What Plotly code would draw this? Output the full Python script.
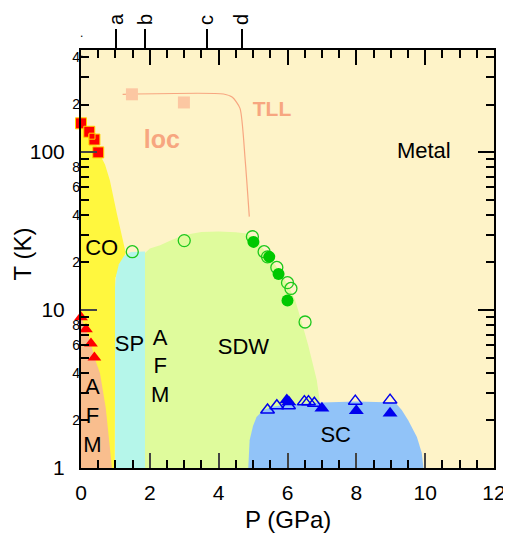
import plotly.graph_objects as go

FONT = "Liberation Sans, Arial, sans-serif"

# ---- phase-region boundaries (P in GPa, T in K) ----
co_p = [0, 0.24, 0.39, 0.52, 0.70, 0.84, 1.04, 1.20, 1.30, 1.00, 0.98, 0]
co_t = [152, 134, 120, 99.5, 83, 66, 41, 28, 23, 16, 1, 1]

afm_p = [0, 0, 0.145, 0.29, 0.39, 0.55, 0.72, 0.90]
afm_t = [1, 9.0, 7.55, 6.15, 5.0, 4.0, 2.4, 1]

sp_p = [0.99, 0.99, 1.02, 1.10, 1.25, 1.45, 1.86, 1.86]
sp_t = [1, 14, 16.5, 19.5, 22, 23.3, 23.5, 1]

sdw_p = [1.86, 1.86, 2.0, 2.3, 2.6, 3.0, 3.5, 4.0, 4.5, 4.8, 5.0, 5.2, 5.45,
         5.7, 6.0, 6.22, 6.41, 6.6, 6.85, 6.95, 7.05, 7.15]
sdw_t = [1, 23, 24.5, 25.7, 27.5, 29.8, 31.2, 31.4, 31.1, 30.5, 29, 26, 22,
         18.5, 14.5, 11.6, 8.4, 6, 3.6, 2.6, 1.8, 1]

sc_p = [4.86, 4.90, 5.00, 5.10, 5.30, 5.60, 6.0, 7.0, 8.0, 9.13, 9.32, 9.51, 9.76, 9.90, 9.95]
sc_t = [1, 1.5, 1.85, 2.1, 2.33, 2.45, 2.52, 2.6, 2.64, 2.6, 2.33, 2.0, 1.57, 1.25, 1]

# ---- crossover line (TLL / loc) ----
line_p = [1.21, 4.14, 4.40, 4.62, 4.77, 4.89]
line_t = [232, 233, 222, 189, 89, 39]

# ---- data points ----
sq_p = [0, 0.24, 0.39, 0.50]
sq_t = [152, 134.4, 120, 99.5]
sq_small_p = [0.32]
sq_small_t = [126]

tri_red_p = [0, 0.145, 0.29, 0.39]
tri_red_t = [9.0, 7.55, 6.15, 5.0]

salmon_sq_p = [1.48, 2.99]
salmon_sq_t = [232, 206]

circ_open_p = [1.49, 3.0, 4.98, 5.32, 5.42, 5.69, 6.0, 6.1, 6.51]
circ_open_t = [23.4, 27.5, 29.1, 23.4, 21.7, 18.6, 14.9, 13.7, 8.4]
circ_fill_p = [5.01, 5.47, 5.74, 6.0]
circ_fill_t = [27.0, 21.7, 16.9, 11.5]

tri_open_p = [5.42, 5.69, 6.03, 6.49, 6.61, 6.78, 7.97, 8.98]
tri_open_t = [2.33, 2.48, 2.48, 2.63, 2.63, 2.57, 2.65, 2.69]
tri_fill_p = [5.98, 6.04, 7.0, 8.0, 8.98]
tri_fill_t = [2.69, 2.62, 2.39, 2.30, 2.22]

# ---- labels ----
region_labels = ["Metal", "CO", "SP", "A<br>F<br>M", "SDW", "SC", "A<br>F<br>M"]
region_p = [9.96, 0.60, 1.41, 2.30, 4.72, 7.40, 0.33]
region_t = [99.3, 24, 5.96, 4.3, 5.7, 1.58, 2.09]

top_ticks = [1.02, 1.87, 3.65, 4.67]
top_labels = ["a", "b", "c", "d"]

x_ticks = [0, 2, 4, 6, 8, 10, 12]
y_major = [1, 10, 100]
y_major_text = ["1", "10", "100"]
y_minor_lab = [2, 4, 6, 8, 20, 40, 60, 80, 200, 400]
y_minor_text = ["2", "4", "6", "8", "2", "4", "6", "8", "2", "4"]
y_minor_all = [m * d for d in (1, 10, 100) for m in range(2, 10)]
y_minor_all = [v for v in y_minor_all if v <= 440]

BG = "#FEF3C8"
SALMON = "#F7A680"

fig = go.Figure()

def region(px, ty, color):
    fig.add_trace(go.Scatter(x=px, y=ty, mode="lines", fill="toself",
                             fillcolor=color, line=dict(width=0, color=color),
                             hoverinfo="skip", showlegend=False))

region(co_p, co_t, "#FFF73E")
region(afm_p, afm_t, "#F9BE8E")
region(sp_p, sp_t, "#B5F6EA")
region(sdw_p, sdw_t, "#DFFB9C")
region(sc_p, sc_t, "#91C3F8")

fig.add_trace(go.Scatter(x=line_p, y=line_t, mode="lines", line=dict(color=SALMON, width=1.2, shape="spline", smoothing=0.6),
                         hoverinfo="skip", showlegend=False))
fig.add_trace(go.Scatter(x=salmon_sq_p, y=salmon_sq_t, mode="markers",
                         marker=dict(symbol="square", size=12, color="#FCC7A2", line=dict(width=0)),
                         showlegend=False))

fig.add_trace(go.Scatter(x=sq_p, y=sq_t, mode="markers",
                         marker=dict(symbol="square", size=11, color="#FF0000", line=dict(width=1, color="#FFD400")),
                         showlegend=False, cliponaxis=False))
fig.add_trace(go.Scatter(x=sq_small_p, y=sq_small_t, mode="markers",
                         marker=dict(symbol="square", size=6, color="#FF0000", line=dict(width=1, color="#FFD400")),
                         showlegend=False))
fig.add_trace(go.Scatter(x=tri_red_p, y=tri_red_t, mode="markers",
                         marker=dict(symbol="triangle-up", size=12, color="#FF0000", line=dict(width=0)),
                         showlegend=False, cliponaxis=False))

fig.add_trace(go.Scatter(x=circ_open_p, y=circ_open_t, mode="markers",
                         marker=dict(symbol="circle-open", size=12, color="#1CC81C", line=dict(width=1.3)),
                         showlegend=False))
fig.add_trace(go.Scatter(x=circ_fill_p, y=circ_fill_t, mode="markers",
                         marker=dict(symbol="circle", size=12, color="#00C800", line=dict(width=0)),
                         showlegend=False))

fig.add_trace(go.Scatter(x=tri_open_p, y=tri_open_t, mode="markers",
                         marker=dict(symbol="triangle-up-open", size=12, color="#0000EE", line=dict(width=1.5)),
                         showlegend=False))
fig.add_trace(go.Scatter(x=tri_fill_p, y=tri_fill_t, mode="markers",
                         marker=dict(symbol="triangle-up", size=13, color="#0000EE", line=dict(width=0)),
                         showlegend=False))

fig.add_trace(go.Scatter(x=region_p, y=region_t, mode="text", text=region_labels,
                         textfont=dict(family=FONT, size=22, color="black"),
                         hoverinfo="skip", showlegend=False))
fig.add_trace(go.Scatter(x=[2.35], y=[116], mode="text", text=["<b>loc</b>"],
                         textfont=dict(family=FONT, size=25, color=SALMON),
                         hoverinfo="skip", showlegend=False))
fig.add_trace(go.Scatter(x=[5.55], y=[182], mode="text", text=["<b>TLL</b>"],
                         textfont=dict(family=FONT, size=21, color=SALMON),
                         hoverinfo="skip", showlegend=False))

# dummy traces so overlay axes are drawn
for xa, ya in (("x2", "y"), ("x3", "y"), ("x", "y2"), ("x", "y3")):
    fig.add_trace(go.Scatter(x=[None], y=[None], xaxis=xa, yaxis=ya, showlegend=False, hoverinfo="skip"))

yr = [0, 2.646]
xr = [0, 12]
xminor = dict(dtick=0.5, tick0=0, ticks="inside", ticklen=8, tickwidth=2, tickcolor="black", showgrid=False)
yminor = dict(tickvals=y_minor_all, ticks="inside", ticklen=8, tickwidth=2, tickcolor="black", showgrid=False)

# page body has an 8px margin: figure is sized/offset to compensate
fig.update_layout(
    width=503, height=526,
    margin=dict(l=73, r=17, t=42, b=66),
    paper_bgcolor="white", plot_bgcolor=BG,
    font=dict(family=FONT, color="black"),
    showlegend=False,
    xaxis=dict(range=xr, tickvals=x_ticks, ticks="inside", ticklen=15, tickwidth=2, automargin=False,
               showline=True, linewidth=2, linecolor="black", mirror=True,
               showgrid=False, zeroline=False,
               tickfont=dict(size=21), ticklabelstandoff=5,
               minor=xminor),
    xaxis2=dict(range=xr, overlaying="x", side="top", tickvals=top_ticks, ticktext=top_labels, automargin=False,
                ticks="outside", ticklen=20, tickwidth=2, tickcolor="black", tickangle=-90,
                tickfont=dict(size=20), showline=False, showgrid=False, zeroline=False),
    xaxis3=dict(range=xr, overlaying="x", side="top", tickvals=x_ticks, showticklabels=False, automargin=False,
                ticks="inside", ticklen=15, tickwidth=2, tickcolor="black", minor=xminor,
                showline=False, showgrid=False, zeroline=False),
    yaxis=dict(type="log", range=yr, tickvals=y_major, ticktext=y_major_text, automargin=False,
               ticks="inside", ticklen=16, tickwidth=2,
               showline=True, linewidth=2, linecolor="black", mirror=True,
               showgrid=False, zeroline=False,
               tickfont=dict(size=21), ticklabelstandoff=10,
               minor=yminor),
    yaxis2=dict(type="log", range=yr, overlaying="y", side="left", tickvals=y_minor_lab, ticktext=y_minor_text,
                ticks="", tickfont=dict(size=14), ticklabelstandoff=0, automargin=False,
                showline=False, showgrid=False, zeroline=False),
    yaxis3=dict(type="log", range=yr, overlaying="y", side="right", tickvals=y_major, showticklabels=False,
                ticks="inside", ticklen=16, tickwidth=2, tickcolor="black", minor=yminor, automargin=False,
                showline=False, showgrid=False, zeroline=False),
)

# axis titles
fig.add_annotation(x=0.5, y=-0.124, xref="paper", yref="paper", text="P (GPa)", showarrow=False,
                   font=dict(size=24), xanchor="center", yanchor="middle")
fig.add_annotation(x=-0.1416, y=0.512, xref="paper", yref="paper", text="T (K)", showarrow=False,
                   font=dict(size=24), textangle=-90, xanchor="center", yanchor="middle")

fig.add_annotation(x=0, y=1.062, xref="x", yref="paper", text=".", showarrow=False,
                   font=dict(size=12, color="black"))
fig.add_annotation(x=0, y=1.014, xref="x", yref="paper", text=".", showarrow=False,
                   font=dict(size=12, color="black"))

fig.write_html("out.html")
